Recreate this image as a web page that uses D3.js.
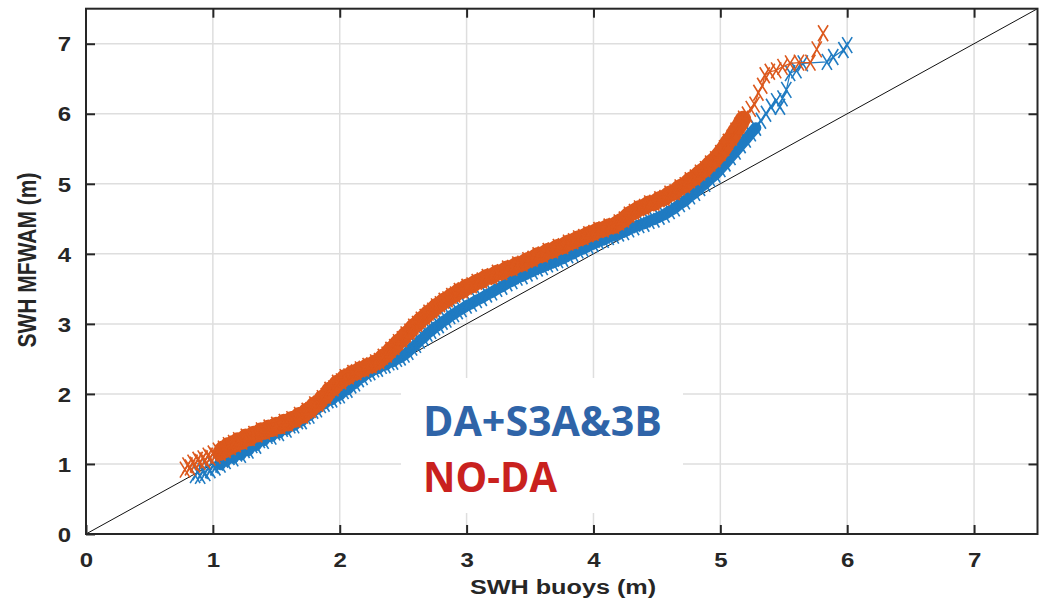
<!DOCTYPE html>
<html>
<head>
<meta charset="utf-8">
<script src="https://cdn.jsdelivr.net/npm/d3@7/dist/d3.min.js"></script>
<style>
	html, body { margin: 0; padding: 0; background: #fff; }
	svg { display: block; }
</style>
</head>
<body>
<svg id="chart" width="1039" height="602"></svg>
<script>
"use strict";

// axis ticks
var tickValues = [0, 1, 2, 3, 4, 5, 6, 7];
var xLabel = 'SWH buoys (m)';
var yLabel = 'SWH MFWAM (m)';
var seriesNames = ['DA+S3A&3B', 'NO-DA'];

// DA+S3A&3B quantiles (buoys, model)
var daX = [0.86, 0.88, 0.90, 0.92, 0.94, 0.96, 0.98, 1.00, 1.02, 1.04, 1.06, 1.08, 1.10, 1.13, 1.16, 1.19,
	1.22, 1.25, 1.28, 1.31, 1.34, 1.37, 1.40, 1.43, 1.46, 1.49, 1.52, 1.55, 1.58, 1.61, 1.64, 1.67,
	1.70, 1.73, 1.76, 1.79, 1.82, 1.85, 1.88, 1.91, 1.94, 1.97, 2.00, 2.03, 2.06, 2.09, 2.12, 2.15,
	2.18, 2.21, 2.24, 2.27, 2.30, 2.33, 2.36, 2.39, 2.42, 2.45, 2.48, 2.51, 2.54, 2.57, 2.60, 2.63,
	2.66, 2.69, 2.72, 2.75, 2.78, 2.81, 2.84, 2.87, 2.90, 2.93, 2.96, 3.00, 3.04, 3.08, 3.12, 3.16,
	3.20, 3.24, 3.28, 3.32, 3.36, 3.40, 3.44, 3.48, 3.52, 3.56, 3.60, 3.64, 3.68, 3.72, 3.76, 3.80,
	3.84, 3.88, 3.92, 3.96, 4.00, 4.04, 4.08, 4.12, 4.16, 4.20, 4.24, 4.28, 4.32, 4.36, 4.40, 4.44,
	4.48, 4.52, 4.56, 4.60, 4.64, 4.68, 4.72, 4.76, 4.80, 4.84, 4.88, 4.92, 4.96, 5.00, 5.04, 5.08,
	5.12, 5.16, 5.20, 5.24, 5.28, 5.32, 5.36, 5.40, 5.44, 5.47, 5.49, 5.52, 5.55, 5.60, 5.65, 5.84,
	5.89, 5.97, 6.00];
var daY = [0.84, 0.88, 0.83, 0.90, 0.87, 0.94, 0.91, 0.98, 0.95, 1.02, 0.99, 1.06, 1.04, 1.10, 1.08, 1.15,
	1.13, 1.20, 1.19, 1.27, 1.26, 1.34, 1.33, 1.40, 1.39, 1.45, 1.44, 1.50, 1.49, 1.55, 1.55, 1.61,
	1.61, 1.68, 1.69, 1.76, 1.78, 1.84, 1.86, 1.91, 1.92, 1.97, 1.98, 2.04, 2.06, 2.12, 2.15, 2.21,
	2.24, 2.29, 2.31, 2.35, 2.36, 2.40, 2.41, 2.45, 2.46, 2.50, 2.52, 2.56, 2.60, 2.66, 2.70, 2.76,
	2.80, 2.86, 2.90, 2.95, 2.98, 3.03, 3.06, 3.11, 3.14, 3.18, 3.21, 3.26, 3.29, 3.34, 3.37, 3.42,
	3.45, 3.50, 3.53, 3.58, 3.61, 3.66, 3.68, 3.72, 3.75, 3.79, 3.81, 3.85, 3.87, 3.91, 3.93, 3.98,
	4.00, 4.05, 4.07, 4.11, 4.14, 4.18, 4.20, 4.24, 4.26, 4.29, 4.31, 4.35, 4.38, 4.41, 4.43, 4.47,
	4.49, 4.53, 4.56, 4.61, 4.65, 4.71, 4.75, 4.82, 4.87, 4.94, 5.00, 5.07, 5.13, 5.21, 5.29, 5.38,
	5.46, 5.55, 5.63, 5.72, 5.80, 5.90, 6.00, 6.10, 6.18, 6.10, 6.22, 6.34, 6.58, 6.62, 6.72, 6.74,
	6.81, 6.91, 6.98];

// NO-DA quantiles (buoys, model)
var noDaX = [0.78, 0.80, 0.82, 0.84, 0.86, 0.88, 0.90, 0.92, 0.94, 0.96, 0.98, 1.00, 1.02, 1.04, 1.06, 1.08,
	1.10, 1.12, 1.14, 1.16, 1.18, 1.20, 1.23, 1.26, 1.29, 1.32, 1.35, 1.38, 1.41, 1.44, 1.47, 1.50,
	1.53, 1.56, 1.59, 1.62, 1.65, 1.68, 1.71, 1.74, 1.77, 1.80, 1.83, 1.86, 1.89, 1.92, 1.95, 1.98,
	2.01, 2.04, 2.07, 2.10, 2.13, 2.16, 2.19, 2.22, 2.25, 2.28, 2.31, 2.34, 2.37, 2.40, 2.43, 2.46,
	2.49, 2.52, 2.55, 2.58, 2.61, 2.64, 2.67, 2.70, 2.73, 2.76, 2.79, 2.82, 2.85, 2.88, 2.91, 2.94,
	2.97, 3.00, 3.04, 3.08, 3.12, 3.16, 3.20, 3.24, 3.28, 3.32, 3.36, 3.40, 3.44, 3.48, 3.52, 3.56,
	3.60, 3.64, 3.68, 3.72, 3.76, 3.80, 3.84, 3.88, 3.92, 3.96, 4.00, 4.04, 4.08, 4.12, 4.16, 4.20,
	4.24, 4.28, 4.32, 4.36, 4.40, 4.44, 4.48, 4.52, 4.56, 4.60, 4.64, 4.68, 4.72, 4.76, 4.80, 4.84,
	4.88, 4.92, 4.96, 5.00, 5.03, 5.06, 5.09, 5.12, 5.15, 5.18, 5.21, 5.24, 5.27, 5.30, 5.33, 5.35,
	5.39, 5.44, 5.49, 5.55, 5.62, 5.71, 5.76, 5.81];
var noDaY = [0.92, 0.98, 0.95, 1.02, 0.99, 1.06, 1.03, 1.08, 1.05, 1.12, 1.09, 1.15, 1.12, 1.19, 1.16, 1.22,
	1.20, 1.27, 1.24, 1.30, 1.28, 1.34, 1.32, 1.39, 1.37, 1.43, 1.42, 1.48, 1.46, 1.52, 1.50, 1.56,
	1.54, 1.60, 1.58, 1.64, 1.63, 1.70, 1.69, 1.76, 1.77, 1.85, 1.86, 1.94, 1.97, 2.06, 2.08, 2.16,
	2.18, 2.24, 2.25, 2.30, 2.31, 2.35, 2.36, 2.40, 2.41, 2.45, 2.47, 2.53, 2.56, 2.63, 2.67, 2.74,
	2.78, 2.85, 2.89, 2.96, 3.00, 3.06, 3.10, 3.16, 3.19, 3.25, 3.28, 3.33, 3.35, 3.40, 3.42, 3.47,
	3.48, 3.53, 3.55, 3.60, 3.62, 3.67, 3.68, 3.73, 3.74, 3.79, 3.80, 3.85, 3.86, 3.91, 3.93, 3.98,
	3.99, 4.04, 4.05, 4.10, 4.11, 4.16, 4.18, 4.22, 4.24, 4.28, 4.30, 4.34, 4.35, 4.39, 4.40, 4.45,
	4.49, 4.56, 4.60, 4.65, 4.67, 4.72, 4.73, 4.78, 4.80, 4.86, 4.88, 4.95, 4.98, 5.05, 5.09, 5.16,
	5.21, 5.29, 5.35, 5.44, 5.51, 5.60, 5.66, 5.76, 5.83, 5.93, 5.99, 6.07, 6.13, 6.30, 6.40, 6.55,
	6.60, 6.62, 6.67, 6.72, 6.73, 6.73, 6.92, 7.15];

var colors = {
	axis: '#262626',
	grid: '#dedede',
	da: '#1f7bc2',
	noDa: '#dc581c',
	daText: '#2f64a8',
	noDaText: '#c9211e'
};

var svg = d3.select('#chart');

var x = d3.scaleLinear().domain([0, 7.5]).range([86, 1037.5]);
var y = d3.scaleLinear().domain([0, 7.5]).range([534, 8.7]);

// grid lines
var grid = svg.append('g');
grid.selectAll('.gx').data(tickValues.slice(1)).enter().append('line')
	.attr('x1', function(d){ return x(d); })
	.attr('x2', function(d){ return x(d); })
	.attr('y1', y(0)).attr('y2', y(7.5))
	.attr('stroke', colors.grid).attr('stroke-width', 1.5);
grid.selectAll('.gy').data(tickValues.slice(1)).enter().append('line')
	.attr('y1', function(d){ return y(d); })
	.attr('y2', function(d){ return y(d); })
	.attr('x1', x(0)).attr('x2', x(7.5))
	.attr('stroke', colors.grid).attr('stroke-width', 1.5);

// white box behind the series names
svg.append('rect')
	.attr('x', 401).attr('y', 378)
	.attr('width', 282).attr('height', 135)
	.attr('fill', '#fff');

// reference line y = x
svg.append('line')
	.attr('x1', x(0)).attr('y1', y(0))
	.attr('x2', x(7.5)).attr('y2', y(7.5))
	.attr('stroke', '#111').attr('stroke-width', 1);

var line = d3.line()
	.x(function(d){ return x(d[0]); })
	.y(function(d){ return y(d[1]); });

// the markers pile up into a solid band where the quantiles are dense
function drawSeries(xs, ys, color, denseUpTo, bandWidth) {
	var pts = xs.map(function(v, i){ return [v, ys[i]]; });
	var g = svg.append('g');
	g.append('path')
		.attr('d', line(pts.filter(function(d){ return d[0] > 1.05 && d[0] <= denseUpTo; })))
		.attr('fill', 'none')
		.attr('stroke', color)
		.attr('stroke-width', bandWidth)
		.attr('stroke-linejoin', 'round')
		.attr('stroke-linecap', 'round');
	g.append('path')
		.attr('d', line(pts))
		.attr('fill', 'none')
		.attr('stroke', color)
		.attr('stroke-width', 1.2);
	g.selectAll('path.m').data(pts).enter().append('path')
		.attr('class', 'm')
		.attr('transform', function(d){ return 'translate(' + x(d[0]) + ',' + y(d[1]) + ')'; })
		.attr('d', 'M-5,-8L5,8M-5,8L5,-8')
		.attr('fill', 'none')
		.attr('stroke', color)
		.attr('stroke-width', 1.6);
}

drawSeries(daX, daY, colors.da, 5.3, 11);
drawSeries(noDaX, noDaY, colors.noDa, 5.2, 16);

// axes (ticks pointing inward, on all four sides)
var axisFont = '"Liberation Sans", Arial, sans-serif';

var xAxis = svg.append('g')
	.attr('transform', 'translate(0,' + y(0) + ')')
	.call(d3.axisBottom(x).tickValues(tickValues).tickSizeInner(-9).tickSizeOuter(0).tickFormat(d3.format('d')));
xAxis.selectAll('text')
	.attr('y', 0).attr('dy', null)
	.attr('transform', 'translate(0,33) scale(1.2,1)');

var yAxis = svg.append('g')
	.attr('transform', 'translate(' + x(0) + ',0)')
	.call(d3.axisLeft(y).tickValues(tickValues).tickSizeInner(-9).tickSizeOuter(0).tickFormat(d3.format('d')));
yAxis.selectAll('text')
	.attr('x', 0).attr('dy', '0.36em')
	.attr('transform', 'translate(-15,0) scale(1.2,1)');

svg.append('g')
	.attr('transform', 'translate(0,' + y(7.5) + ')')
	.call(d3.axisTop(x).tickValues(tickValues.slice(1)).tickSizeInner(-9).tickSizeOuter(0).tickFormat(''));
svg.append('g')
	.attr('transform', 'translate(' + x(7.5) + ',0)')
	.call(d3.axisRight(y).tickValues(tickValues.slice(1)).tickSizeInner(-9).tickSizeOuter(0).tickFormat(''));

svg.selectAll('.domain').remove();
svg.selectAll('.tick line').attr('stroke', colors.axis).attr('stroke-width', 2);
svg.selectAll('.tick text')
	.attr('fill', colors.axis)
	.style('font-family', axisFont)
	.style('font-size', '20px')
	.style('font-weight', 'bold');

// frame
svg.append('rect')
	.attr('x', x(0)).attr('y', y(7.5))
	.attr('width', x(7.5) - x(0)).attr('height', y(0) - y(7.5))
	.attr('fill', 'none')
	.attr('stroke', colors.axis)
	.attr('stroke-width', 2);

// axis titles
svg.append('text')
	.attr('transform', 'translate(563,594) scale(1.2,1)')
	.attr('text-anchor', 'middle')
	.attr('fill', colors.axis)
	.style('font-family', axisFont)
	.style('font-size', '21px')
	.style('font-weight', 'bold')
	.text(xLabel);

svg.append('text')
	.attr('transform', 'translate(36,260) scale(1.2,1) rotate(-90)')
	.attr('text-anchor', 'middle')
	.attr('fill', colors.axis)
	.style('font-family', axisFont)
	.style('font-size', '21px')
	.style('font-weight', 'bold')
	.text(yLabel);

// series names
svg.append('text')
	.attr('x', 423).attr('y', 436)
	.attr('textLength', 239).attr('lengthAdjust', 'spacingAndGlyphs')
	.attr('fill', colors.daText)
	.style('font-family', '"Open Sans", sans-serif')
	.style('font-size', '41px')
	.style('font-weight', 'bold')
	.text(seriesNames[0]);

svg.append('text')
	.attr('x', 423).attr('y', 492)
	.attr('textLength', 134).attr('lengthAdjust', 'spacingAndGlyphs')
	.attr('fill', colors.noDaText)
	.style('font-family', '"Open Sans", sans-serif')
	.style('font-size', '41px')
	.style('font-weight', 'bold')
	.text(seriesNames[1]);
</script>
</body>
</html>
